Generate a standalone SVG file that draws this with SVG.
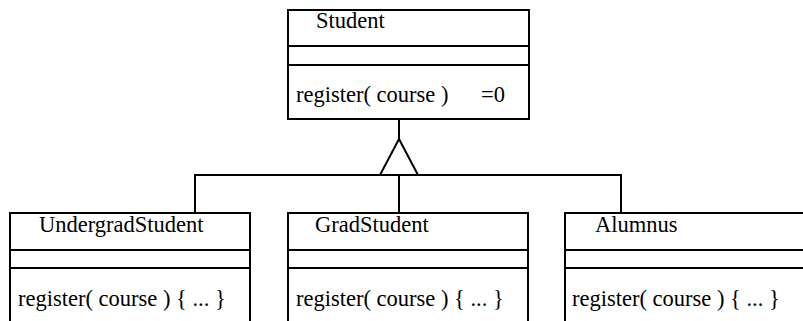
<svg xmlns="http://www.w3.org/2000/svg" width="803" height="321" viewBox="0 0 803 321">
<style>
.box{fill:#fff;stroke:#000;stroke-width:2}
.ln{stroke:#000;stroke-width:2;fill:none}
.t{font-family:"Liberation Serif","Times New Roman",serif;font-size:22.5px;fill:#000}
</style>
<rect width="803" height="321" fill="#fff"/>
<g id="connectors">
<line class="ln" x1="399" y1="119" x2="399" y2="139"/>
<polygon class="ln" points="399,139 380,175 418,175"/>
<polyline class="ln" points="195,213 195,175 621,175 621,213"/>
<line class="ln" x1="399" y1="175" x2="399" y2="213"/>
</g>
<g id="Student">
<rect class="box" x="288" y="10" width="241" height="109"/>
<line class="ln" x1="288" y1="46" x2="529" y2="46"/>
<line class="ln" x1="288" y1="65" x2="529" y2="65"/>
<text class="t" x="316" y="28">Student</text>
<text class="t" x="296" y="102">register( course )</text>
<text class="t" x="481" y="102">=0</text>
</g>
<g id="UndergradStudent">
<rect class="box" x="10" y="213" width="240" height="120"/>
<line class="ln" x1="10" y1="250" x2="250" y2="250"/>
<line class="ln" x1="10" y1="268" x2="250" y2="268"/>
<text class="t" x="39" y="232">UndergradStudent</text>
<text class="t" x="18" y="306">register( course ) { ... }</text>
</g>
<g id="GradStudent">
<rect class="box" x="288" y="213" width="240" height="120"/>
<line class="ln" x1="288" y1="250" x2="528" y2="250"/>
<line class="ln" x1="288" y1="268" x2="528" y2="268"/>
<text class="t" x="315" y="232">GradStudent</text>
<text class="t" x="296" y="306">register( course ) { ... }</text>
</g>
<g id="Alumnus">
<rect class="box" x="565" y="213" width="250" height="120"/>
<line class="ln" x1="565" y1="250" x2="815" y2="250"/>
<line class="ln" x1="565" y1="268" x2="815" y2="268"/>
<text class="t" x="595" y="232">Alumnus</text>
<text class="t" x="572" y="306">register( course ) { ... }</text>
</g>
</svg>
